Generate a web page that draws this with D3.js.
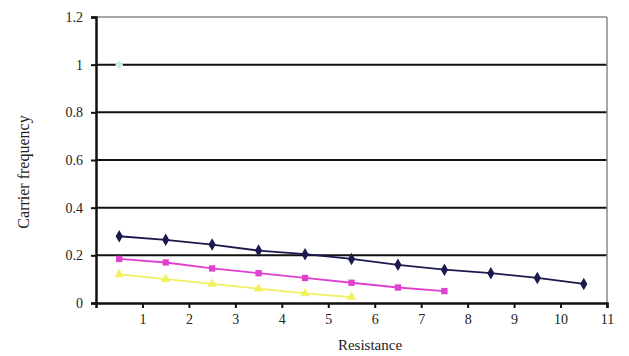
<!DOCTYPE html>
<html><head><meta charset="utf-8">
<script src="https://cdn.jsdelivr.net/npm/d3@7/dist/d3.min.js"></script>
<style>body{margin:0;background:#fff;} svg{display:block;} text{font-family:"Liberation Serif","Times New Roman",serif;fill:#222;}</style>
</head><body><svg id="c" width="629" height="356"></svg>
<script>
const xValues = [0.5,1.5,2.5,3.5,4.5,5.5,6.5,7.5,8.5,9.5,10.5];
const seriesA = [0.28,0.265,0.245,0.22,0.205,0.185,0.16,0.14,0.125,0.105,0.08];
const seriesB = [0.185,0.17,0.145,0.125,0.105,0.085,0.065,0.05];
const seriesC = [0.12,0.1,0.08,0.06,0.04,0.025];
const seriesD = [1.0];
const xTicks = [1,2,3,4,5,6,7,8,9,10,11];
const yTicks = [0,0.2,0.4,0.6,0.8,1,1.2];
const xTitle = "Resistance";
const yTitle = "Carrier frequency";

const svg = d3.select("#c");
const m = {l:96, r:607, t:17, b:303};
const x = d3.scaleLinear().domain([0,11]).range([m.l,m.r]);
const y = d3.scaleLinear().domain([0,1.2]).range([m.b,m.t]);

svg.append("g").selectAll("line").data(yTicks.filter(d=>d>0 && d<1.2)).join("line")
  .attr("x1",m.l).attr("x2",m.r).attr("y1",d=>y(d)).attr("y2",d=>y(d))
  .attr("stroke","#111").attr("stroke-width",2);
svg.append("line").attr("x1",m.l).attr("x2",m.r).attr("y1",m.t).attr("y2",m.t).attr("stroke","#888").attr("stroke-width",1.5);
svg.append("line").attr("x1",m.r).attr("x2",m.r).attr("y1",m.t).attr("y2",m.b).attr("stroke","#888").attr("stroke-width",1.5);

const yAxis = svg.append("g").attr("transform",`translate(${m.l},0)`)
  .call(d3.axisLeft(y).tickValues(yTicks).tickFormat(d3.format("~g")).tickSize(5).tickPadding(8));
const xAxis = svg.append("g").attr("transform",`translate(0,${m.b})`)
  .call(d3.axisBottom(x).tickValues(xTicks).tickSize(5).tickPadding(6));
[yAxis,xAxis].forEach(a=>{
  a.select(".domain").attr("stroke","#111").attr("stroke-width",2.5);
  a.selectAll(".tick line").attr("stroke","#111").attr("stroke-width",2);
  a.selectAll("text").attr("font-size",14).attr("font-family","Liberation Serif").attr("fill","#222");
});

const line = d3.line().x((d,i)=>x(xValues[i])).y(d=>y(d));
const series = [
  {v:seriesA, c:"#1a1a4e", s:d3.symbolDiamond, size:45},
  {v:seriesB, c:"#e040d0", s:d3.symbolSquare, size:40},
  {v:seriesC, c:"#f0f060", s:d3.symbolTriangle, size:40},
  {v:seriesD, c:"#c8ecec", s:d3.symbolCross, size:30}
];
series.forEach(S=>{
  svg.append("path").datum(S.v).attr("d",line).attr("fill","none").attr("stroke",S.c).attr("stroke-width",1.8);
  svg.append("g").selectAll("path").data(S.v).join("path")
    .attr("transform",(d,i)=>`translate(${x(xValues[i])},${y(d)})`)
    .attr("d",d3.symbol().type(S.s).size(S.size)).attr("fill",S.c);
});

svg.append("text").attr("x",370).attr("y",350).attr("text-anchor","middle").attr("font-size",15).text(xTitle);
svg.append("text").attr("transform","translate(29,172) rotate(-90)").attr("text-anchor","middle").attr("font-size",16).text(yTitle);
</script></body></html>
